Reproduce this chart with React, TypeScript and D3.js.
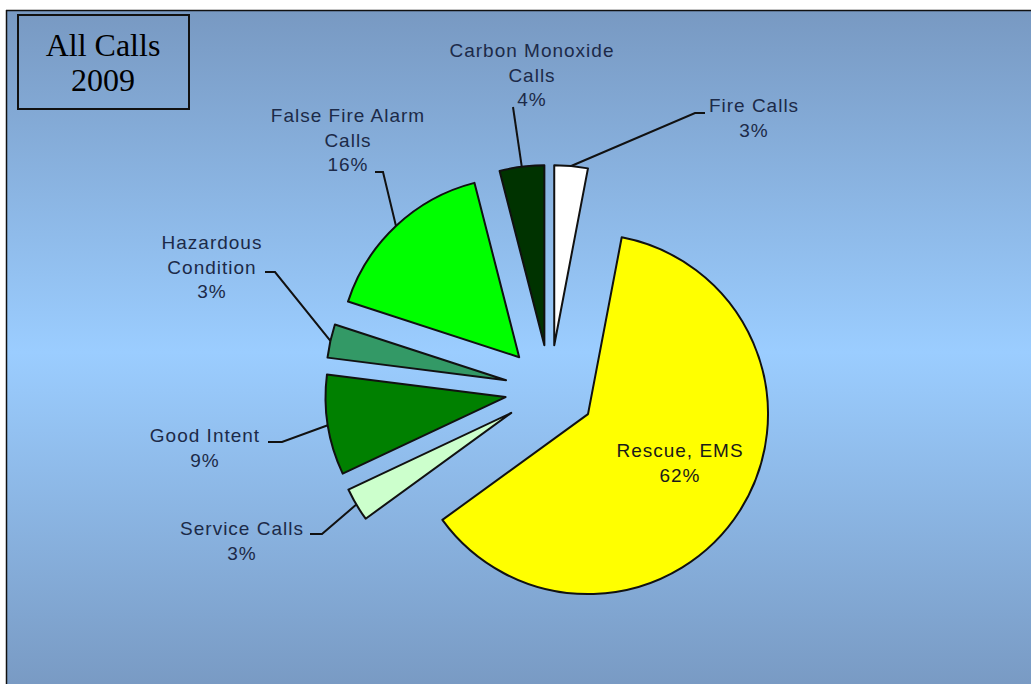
import React from 'react';
import * as d3 from 'd3';

// slices, clockwise from 12 o'clock
const categories = ['Fire Calls', 'Rescue, EMS', 'Service Calls', 'Good Intent', 'Hazardous Condition', 'False Fire Alarm Calls', 'Carbon Monoxide Calls'];
const percents = [3, 62, 3, 9, 3, 16, 4];
const labelLines = [
  ['Fire Calls'],
  ['Rescue, EMS'],
  ['Service Calls'],
  ['Good Intent'],
  ['Hazardous', 'Condition'],
  ['False Fire Alarm', 'Calls'],
  ['Carbon Monoxide', 'Calls'],
];
const sliceColors = ['#ffffff', '#ffff00', '#ccffcc', '#008000', '#339966', '#00ff00', '#003300'];

const W = 1031;
const H = 684;
const cx = 550;
const cy = 390;
const radius = 180;
const explode = 45;

// label placement: text center x, first baseline y, elbow of leader line, end of short tick
const labelLayout: any = {
  'Fire Calls': { x: 754, y: 112, elbow: [695, 113], tick: [705, 113] },
  'Rescue, EMS': { x: 680, y: 457, elbow: null, tick: null },
  'Service Calls': { x: 242, y: 535, elbow: [322, 534], tick: [310, 534] },
  'Good Intent': { x: 205, y: 442, elbow: [282, 442], tick: [268, 442] },
  'Hazardous Condition': { x: 212, y: 249, elbow: [275, 272], tick: [265, 272] },
  'False Fire Alarm Calls': { x: 348, y: 122, elbow: [383, 172], tick: [375, 172] },
  'Carbon Monoxide Calls': { x: 532, y: 57, elbow: [513, 107], tick: null },
};

const App = () => {
  const data = categories.map((c, i) => ({ name: c, value: percents[i], lines: labelLines[i], color: sliceColors[i] }));
  const pie = d3.pie<any>().sort(null).value((d: any) => d.value).startAngle(0).endAngle(2 * Math.PI);
  const arcs = pie(data);
  const arc = d3.arc<any>().innerRadius(0).outerRadius(radius);

  const lineH = 24.5;

  return (
    <svg width={W} height={H} style={{ position: 'absolute', left: 0, top: 0 }}>
      <defs>
        <linearGradient id="bg" x1="0" y1="0" x2="0" y2="1">
          <stop offset="0%" stopColor="#7899c2" />
          <stop offset="50%" stopColor="#9bcdff" />
          <stop offset="100%" stopColor="#7899c2" />
        </linearGradient>
      </defs>
      <rect x={0} y={0} width={W} height={H} fill="#ffffff" />
      <rect x={6} y={10} width={W} height={H} fill="url(#bg)" />
      <line x1={6} y1={10.5} x2={W} y2={10.5} stroke="#111" strokeWidth={1.5} />
      <line x1={6.5} y1={10} x2={6.5} y2={H} stroke="#111" strokeWidth={1.5} />

      {/* title box */}
      <rect x={18} y={15} width={171} height={94} fill="none" stroke="#111" strokeWidth={2} />
      <text x={103} y={56} textAnchor="middle" fontFamily="'Liberation Serif', 'DejaVu Serif', serif" fontSize={32} fill="#000">All Calls</text>
      <text x={103} y={91} textAnchor="middle" fontFamily="'Liberation Serif', 'DejaVu Serif', serif" fontSize={32} fill="#000">2009</text>

      <g transform={`translate(${cx},${cy})`}>
        {arcs.map((a: any, i: number) => {
          const mid = (a.startAngle + a.endAngle) / 2;
          const dx = explode * Math.sin(mid);
          const dy = -explode * Math.cos(mid);
          return (
            <path key={i} d={arc(a) as string} transform={`translate(${dx},${dy})`} fill={a.data.color} stroke="#111" strokeWidth={2} strokeLinejoin="round" />
          );
        })}
      </g>

      {arcs.map((a: any, i: number) => {
        const mid = (a.startAngle + a.endAngle) / 2;
        const lay = labelLayout[a.data.name];
        const ox = cx + (explode + radius) * Math.sin(mid);
        const oy = cy - (explode + radius) * Math.cos(mid);
        const pts: any[] = [];
        if (lay.elbow) {
          pts.push([ox, oy], lay.elbow);
          if (lay.tick) pts.push(lay.tick);
        }
        const isInside = !lay.elbow;
        const textLines = [...a.data.lines, `${a.data.value}%`];
        return (
          <g key={i}>
            {pts.length > 0 && (
              <path d={d3.line()(pts) as string} fill="none" stroke="#111" strokeWidth={2} />
            )}
            {textLines.map((t: string, j: number) => (
              <text
                key={j}
                x={lay.x}
                y={lay.y + j * lineH}
                textAnchor="middle"
                fontFamily="'Liberation Sans', Arial, sans-serif"
                fontSize={19}
                letterSpacing={1}
                fill={isInside ? '#1a1a1a' : '#1c2a48'}
              >
                {t}
              </text>
            ))}
          </g>
        );
      })}
    </svg>
  );
};

export default App;
